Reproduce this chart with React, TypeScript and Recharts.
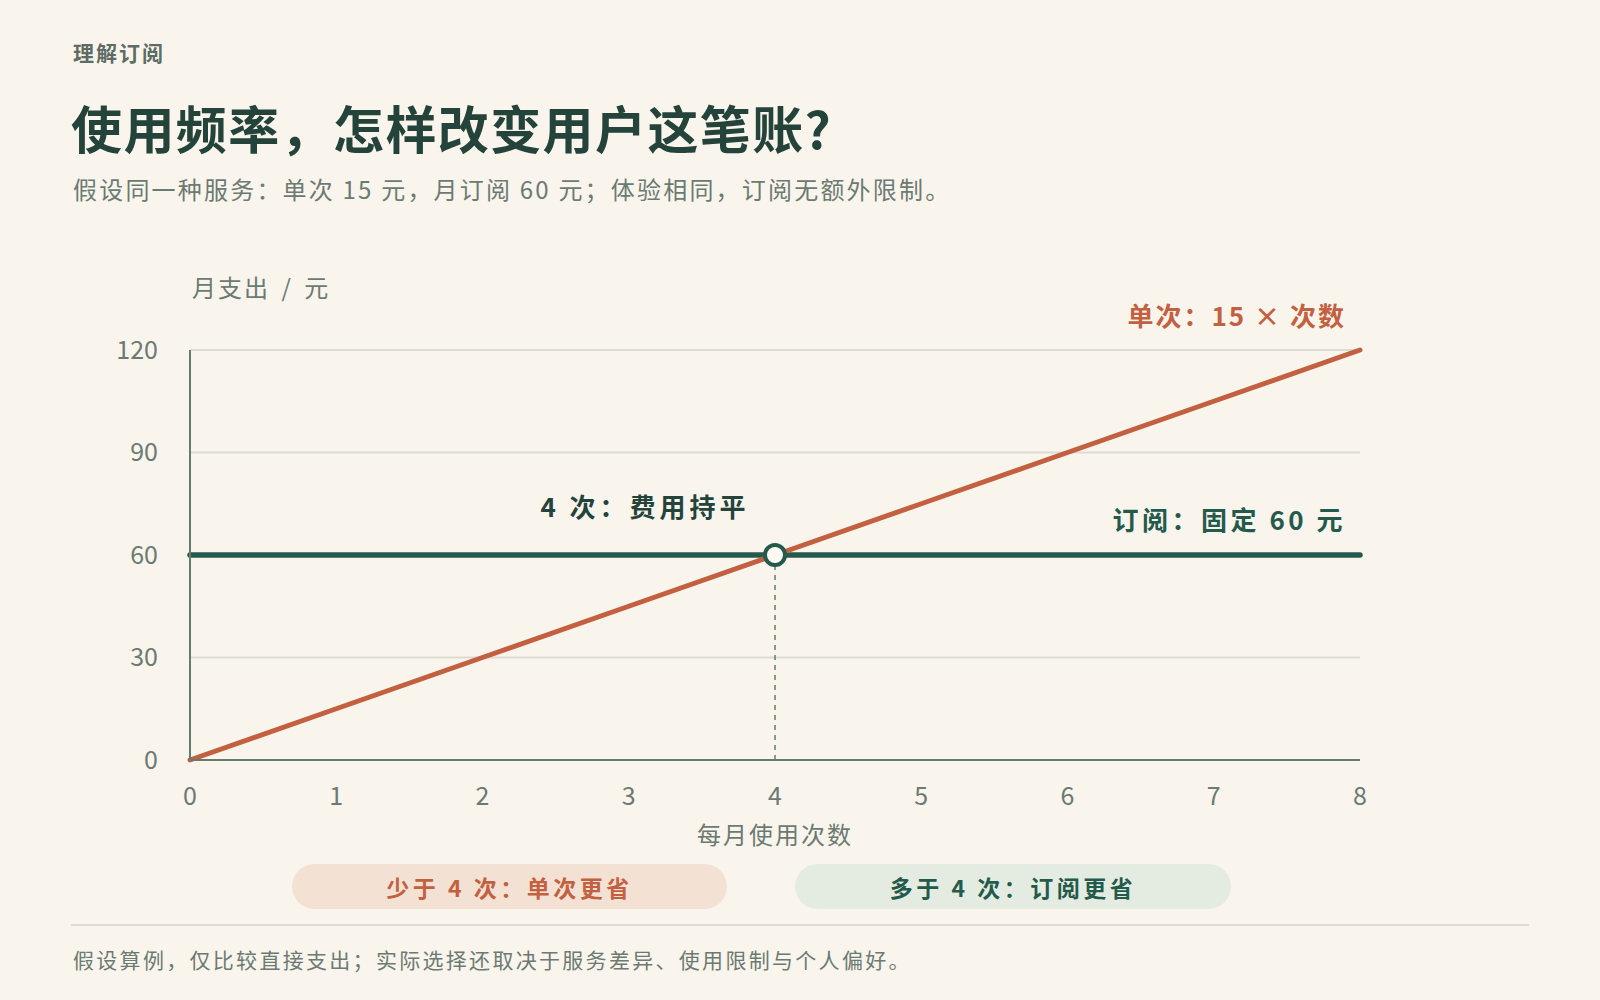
import React from 'react';
import {
  LineChart,
  Line,
  XAxis,
  YAxis,
  CartesianGrid,
  ReferenceDot,
  ReferenceLine,
  LabelList,
  Label
} from 'recharts';

// 每月使用次数
const visits = [0, 1, 2, 3, 4, 5, 6, 7, 8];
// 单次付费：每次 15 元
const payPerUse = [0, 15, 30, 45, 60, 75, 90, 105, 120];
// 月订阅：固定 60 元
const subscription = [60, 60, 60, 60, 60, 60, 60, 60, 60];
const yTicks = [0, 30, 60, 90, 120];
const breakEven = { x: 4, y: 60 };

const data = visits.map((v, i) => ({ visits: v, single: payPerUse[i], sub: subscription[i] }));

const FONT = '"Noto Sans CJK SC", "Noto Sans", sans-serif';
const ORANGE = '#c2603f';
const GREEN = '#245a4b';
const DARK = '#24433a';
const MUTED = '#6c7a72';
const AXIS = '#677a6e';
const BG = '#f9f5ed';

const EndLabel = (color: string, text: string, dy: number, spacing: number) => (props: any) => {
  const { x, y, index } = props;
  if (index !== visits.length - 1) return null;
  return (
    <text x={x - 14} y={y + dy} textAnchor="end" dominantBaseline="central" letterSpacing={spacing}
      fill={color} fontSize={26} fontWeight={700} fontFamily={FONT}>
      {text}
    </text>
  );
};

const App: React.FC = () => {
  return (
    <div style={{ position: 'absolute', left: 0, top: 0, width: 1600, height: 1000, background: BG, fontFamily: FONT, overflow: 'hidden' }}>
      <div style={{ position: 'absolute', left: 73, top: 37, fontSize: 21, fontWeight: 600, color: '#5d6c64', letterSpacing: 2 }}>理解订阅</div>
      <div style={{ position: 'absolute', left: 71, top: 93, fontSize: 51, fontWeight: 700, color: DARK, lineHeight: '68px', letterSpacing: 1.4 }}>
        使用频率，怎样改变用户这笔账?
      </div>
      <div style={{ position: 'absolute', left: 73, top: 171, fontSize: 24, color: MUTED, letterSpacing: 2.2 }}>
        假设同一种服务：单次 15 元，月订阅 60 元；体验相同，订阅无额外限制。
      </div>
      <div style={{ position: 'absolute', left: 192, top: 269, fontSize: 24, color: MUTED, letterSpacing: 2, wordSpacing: 4 }}>月支出 / 元</div>

      <div style={{ position: 'absolute', left: 0, top: 0 }}>
        <LineChart width={1600} height={1000} data={data}
          margin={{ top: 350, right: 240, bottom: 180, left: 130 }}>
          <CartesianGrid horizontal vertical={false} stroke="#dddcd2" strokeWidth={2} />
          <XAxis dataKey="visits" type="number" domain={[0, 8]} ticks={visits} height={60}
            axisLine={{ stroke: AXIS, strokeWidth: 2 }} tickLine={false} tickSize={0} tickMargin={27}
            tick={{ fill: MUTED, fontSize: 25, fontFamily: FONT }}>
            <Label value="每月使用次数" position="bottom" offset={7} letterSpacing={2}
              style={{ fill: MUTED, fontSize: 24, fontFamily: FONT }} />
          </XAxis>
          <YAxis type="number" domain={[0, 120]} ticks={yTicks} width={60}
            axisLine={{ stroke: AXIS, strokeWidth: 2 }} tickLine={false} tickSize={0} tickMargin={32}
            tick={{ fill: MUTED, fontSize: 25, fontFamily: FONT }} />
          <ReferenceLine segment={[{ x: breakEven.x, y: 0 }, { x: breakEven.x, y: breakEven.y }]}
            stroke={AXIS} strokeWidth={1.5} strokeDasharray="5 5" />
          <Line dataKey="sub" stroke={GREEN} strokeWidth={5.5} strokeLinecap="round" dot={false}
            activeDot={false} isAnimationActive={false}>
            <LabelList dataKey="sub" content={EndLabel(GREEN, '订阅：固定 60 元', -37, 3.5)} />
          </Line>
          <Line dataKey="single" stroke={ORANGE} strokeWidth={5} strokeLinecap="round" dot={false}
            activeDot={false} isAnimationActive={false}>
            <LabelList dataKey="single" content={EndLabel(ORANGE, '单次：15 × 次数', -36, 2)} />
          </Line>
          <ReferenceDot x={breakEven.x} y={breakEven.y} r={10} fill="#fdfaf4" stroke={GREEN} strokeWidth={4}>
            <Label content={(p: any) => {
              const cx = p.viewBox.x + p.viewBox.width / 2;
              const cy = p.viewBox.y + p.viewBox.height / 2;
              return (
                <text x={cx - 130} y={cy - 50} textAnchor="middle" dominantBaseline="central" letterSpacing={4}
                  fill={DARK} fontSize={26} fontWeight={700} fontFamily={FONT}>4 次：费用持平</text>
              );
            }} />
          </ReferenceDot>
        </LineChart>
      </div>

      <div style={{ position: 'absolute', left: 292, top: 864, width: 435, height: 45, borderRadius: 23, background: '#f3e1d4', color: ORANGE, fontSize: 23, fontWeight: 700, letterSpacing: 3.5, display: 'flex', alignItems: 'center', justifyContent: 'center' }}>
        少于 4 次：单次更省
      </div>
      <div style={{ position: 'absolute', left: 795, top: 864, width: 436, height: 45, borderRadius: 23, background: '#e4ece2', color: GREEN, fontSize: 23, fontWeight: 700, letterSpacing: 3.5, display: 'flex', alignItems: 'center', justifyContent: 'center' }}>
        多于 4 次：订阅更省
      </div>
      <div style={{ position: 'absolute', left: 71, top: 924, width: 1458, height: 2, background: '#dddcd2' }} />
      <div style={{ position: 'absolute', left: 73, top: 944, fontSize: 21, color: MUTED, letterSpacing: 2.3 }}>
        假设算例，仅比较直接支出；实际选择还取决于服务差异、使用限制与个人偏好。
      </div>
    </div>
  );
};

export default App;
